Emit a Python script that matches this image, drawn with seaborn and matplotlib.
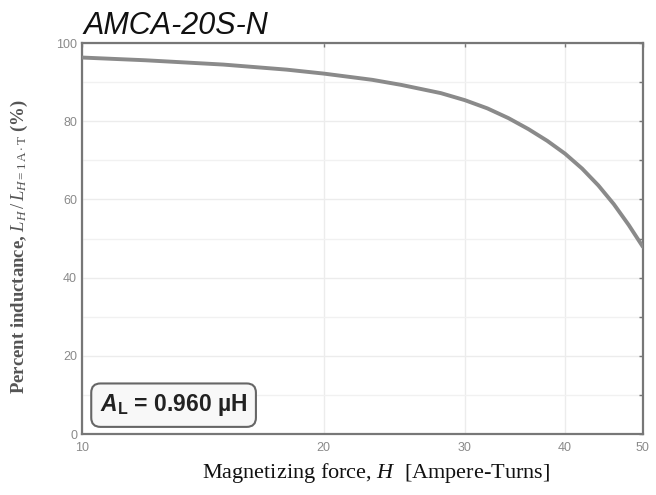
import matplotlib
matplotlib.use("Agg")
import matplotlib.pyplot as plt
import seaborn as sns
import pandas as pd
from matplotlib.ticker import FixedLocator, NullLocator, FixedFormatter

# Magnetizing force (ampere-turns) and percent of initial inductance
H_at = [10, 12, 15, 18, 20, 23, 25, 28, 30, 32, 34, 36, 38, 40, 42, 44, 46, 48, 50]
pct_L = [96.3, 95.6, 94.5, 93.2, 92.2, 90.6, 89.3, 87.2, 85.4, 83.3, 80.8, 78.0, 75.0, 71.7, 67.9, 63.6, 58.8, 53.5, 47.9]

x_ticks = [10, 20, 30, 40, 50]
y_ticks = [0, 20, 40, 60, 80, 100]
y_minor = [10, 30, 50, 70, 90]

title = "AMCA-20S-N"
al_text = r"$\mathbfit{A}_{\mathsf{L}}$ = 0.960 µH"

df = pd.DataFrame({"H": H_at, "pct": pct_L})

sns.set_theme(style="white")
plt.rcParams.update({
    "mathtext.fontset": "custom",
    "mathtext.rm": "Liberation Serif",
    "mathtext.it": "Liberation Serif:italic",
    "mathtext.bf": "Liberation Serif:bold",
    "mathtext.bfit": "Liberation Sans:italic:bold",
    "mathtext.sf": "Liberation Sans:bold",
})

fig = plt.figure(figsize=(6.56, 4.95), dpi=100)
ax = fig.add_axes([0.125, 0.123, 0.855, 0.79])

sns.lineplot(data=df, x="H", y="pct", ax=ax, color="#8a8a8a", lw=2.8, zorder=3)

ax.set_xscale("log")
ax.set_xlim(10, 50)
ax.set_ylim(0, 100)
ax.xaxis.set_major_locator(FixedLocator(x_ticks))
ax.xaxis.set_major_formatter(FixedFormatter([str(v) for v in x_ticks]))
ax.xaxis.set_minor_locator(NullLocator())
ax.yaxis.set_major_locator(FixedLocator(y_ticks))
ax.yaxis.set_minor_locator(FixedLocator(y_minor))

ax.grid(True, which="major", color="#ececec", lw=1.0)
ax.grid(True, which="minor", axis="y", color="#f1f1f1", lw=1.0)

for s in ax.spines.values():
    s.set_color("#777777")
    s.set_linewidth(1.6)

ax.tick_params(axis="both", which="both", direction="in", color="#777777",
               top=True, right=True, labelsize=9, labelcolor="#8a8a8a", length=3, width=1)
ax.tick_params(axis="x", pad=6)
for lab in ax.get_xticklabels() + ax.get_yticklabels():
    lab.set_family("Liberation Sans")

ax.set_xlabel(r"Magnetizing force, $H$  [Ampere-Turns]", family="Liberation Serif",
              fontsize=16, color="#111111")
ax.xaxis.set_label_coords(0.525, -0.068)
ax.set_ylabel(r"Percent inductance, $L_{H}\,/\,L_{H=1\,\mathrm{A\cdot T}}$ (%)",
              family="Liberation Serif", fontsize=13.5, color="#555555",
              fontweight="bold")
ax.yaxis.set_label_coords(-0.093, 0.48)

fig.text(0.127, 0.918, title, family="Liberation Sans", style="italic",
         fontsize=22, color="#111111", ha="left", va="bottom")

ax.text(0.032, 0.074, al_text, transform=ax.transAxes, family="Liberation Sans",
        fontweight="bold", fontsize=16.5, color="#222222", ha="left", va="center",
        bbox=dict(boxstyle="round,pad=0.38,rounding_size=0.4", fc="#f8f8f8",
                  ec="#666666", lw=1.5), zorder=5)

fig.savefig("out.png", dpi=100, facecolor="white")
